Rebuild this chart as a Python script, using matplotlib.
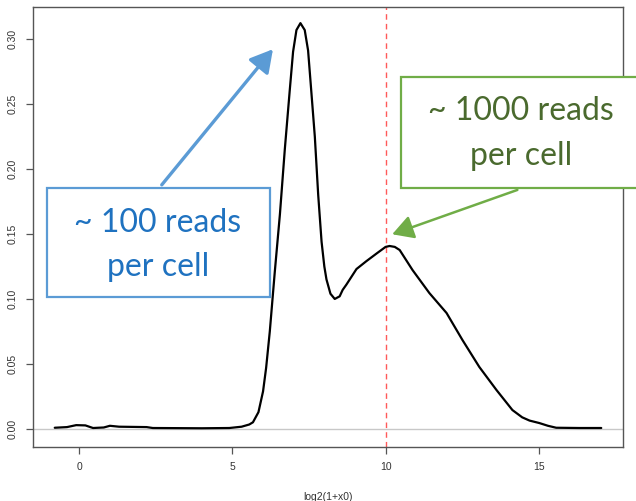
import matplotlib
matplotlib.use("Agg")
import matplotlib.pyplot as plt
from matplotlib.patches import Rectangle, FancyArrowPatch

# ---- data ----
x_vals = [-0.8, -0.4, -0.1, 0.2, 0.45, 0.8, 1.0, 1.3, 2.2, 2.4, 4.0, 4.9,
          5.3, 5.55, 5.67, 5.85, 6.0, 6.1, 6.22, 6.38, 6.55, 6.71, 6.87, 6.98,
          7.09, 7.22, 7.36, 7.47, 7.58, 7.69, 7.80, 7.91, 8.0, 8.07, 8.20,
          8.34, 8.50, 8.6, 8.72, 8.83, 9.05, 9.37, 9.71, 10.0, 10.13, 10.3,
          10.46, 10.88, 11.43, 11.99, 12.51, 13.06, 13.62, 14.14, 14.46, 14.7,
          15.02, 15.3, 15.57, 16.32, 17.04]
density = [0.001, 0.0015, 0.003, 0.0028, 0.0008, 0.0012, 0.0025, 0.0018,
           0.0015, 0.0008, 0.0006, 0.0008, 0.0018, 0.0035, 0.0052, 0.0130,
           0.0290, 0.0470, 0.0750, 0.1200, 0.1650, 0.2150, 0.2600, 0.2900,
           0.3067, 0.3120, 0.3067, 0.2910, 0.2580, 0.2247, 0.1800, 0.1440,
           0.1250, 0.1150, 0.1040, 0.1000, 0.1020, 0.1070, 0.1110, 0.1150,
           0.1230, 0.1290, 0.1350, 0.1400, 0.1407, 0.1400, 0.1376, 0.1222,
           0.1045, 0.0892, 0.0684, 0.0477, 0.0300, 0.0146, 0.0090, 0.0065,
           0.0046, 0.0025, 0.0010, 0.0008, 0.0008]
x_ticks = [0, 5, 10, 15]
y_ticks = [0.00, 0.05, 0.10, 0.15, 0.20, 0.25, 0.30]
y_tick_labels = ["0.00", "0.05", "0.10", "0.15", "0.20", "0.25", "0.30"]
vline_x = 10
x_label = "log2(1+x0)"
label_low = ["~ 100 reads", "per cell"]
label_high = ["~ 1000 reads", "per cell"]
tip_low = (6.38, 0.2936)
tip_high = (10.13, 0.149)

W, H = 636, 501
fig = plt.figure(figsize=(W / 100, H / 100), dpi=100)
ax = fig.add_axes([33 / W, 1 - 447 / H, (623 - 33) / W, (447 - 7) / H])

ax.axhline(0, color="#c8c8c8", lw=1.0, zorder=1)
ax.axvline(vline_x, color="#ff5a5a", lw=1.0, ls=(0, (4, 3)), zorder=1)
ax.plot(x_vals, density, color="black", lw=1.6, zorder=3,
        solid_joinstyle="round", solid_capstyle="round")

ax.set_xlim(-1.51, 17.75)
ax.set_ylim(-0.0138, 0.3244)
ax.set_xticks(x_ticks)
ax.set_yticks(y_ticks)
ax.set_yticklabels(y_tick_labels, rotation=90, va="center")
for lab in ax.get_xticklabels() + ax.get_yticklabels():
    lab.set_fontfamily("Liberation Sans")
    lab.set_fontsize(7.5)
    lab.set_color("#333333")
ax.tick_params(axis="both", length=5, width=0.9, color="#555555")
ax.tick_params(axis="x", pad=6)
ax.tick_params(axis="y", pad=6)
for s in ax.spines.values():
    s.set_color("#555555")
    s.set_linewidth(1.0)
ax.set_xlabel(x_label, fontfamily="Liberation Sans", fontsize=7.5, color="#333333", labelpad=14)


def fx(px):
    return px / W


def fy(py):
    return 1 - py / H


# blue box
fig.patches.append(Rectangle((fx(47), fy(297)), fx(270) - fx(47), fy(188) - fy(297),
                             transform=fig.transFigure, fill=True, facecolor="white",
                             edgecolor="#5b9bd5", lw=1.6, zorder=5))
for txt, py in zip(label_low, [223, 267]):
    fig.text(fx(158), fy(py), txt, ha="center", va="center", fontsize=23,
             family="Lato", color="#1f72c0", zorder=6)
# green box (runs past right edge)
fig.patches.append(Rectangle((fx(401), fy(188)), fx(700) - fx(401), fy(77) - fy(188),
                             transform=fig.transFigure, fill=True, facecolor="white",
                             edgecolor="#70ad47", lw=1.6, zorder=5, clip_on=False))
for txt, py in zip(label_high, [111, 156]):
    fig.text(fx(521), fy(py), txt, ha="center", va="center", fontsize=23,
             family="Lato", color="#4a6a2e", zorder=6)

# arrows
a1 = FancyArrowPatch(posA=(0, 0), posB=(1, 1), transform=None,
                     arrowstyle="-|>,head_length=8,head_width=4.5", mutation_scale=1.7,
                     color="#5b9bd5", lw=2.4, zorder=6)
a1.set_positions(fig.transFigure.transform((fx(160), fy(187))), ax.transData.transform(tip_low))
fig.patches.append(a1)
a2 = FancyArrowPatch(posA=(0, 0), posB=(1, 1), transform=None,
                     arrowstyle="-|>,head_length=8,head_width=4.5", mutation_scale=1.6,
                     color="#70ad47", lw=1.8, zorder=6)
a2.set_positions(fig.transFigure.transform((fx(520), fy(189))), ax.transData.transform(tip_high))
fig.patches.append(a2)

fig.savefig("out.png", dpi=100)
